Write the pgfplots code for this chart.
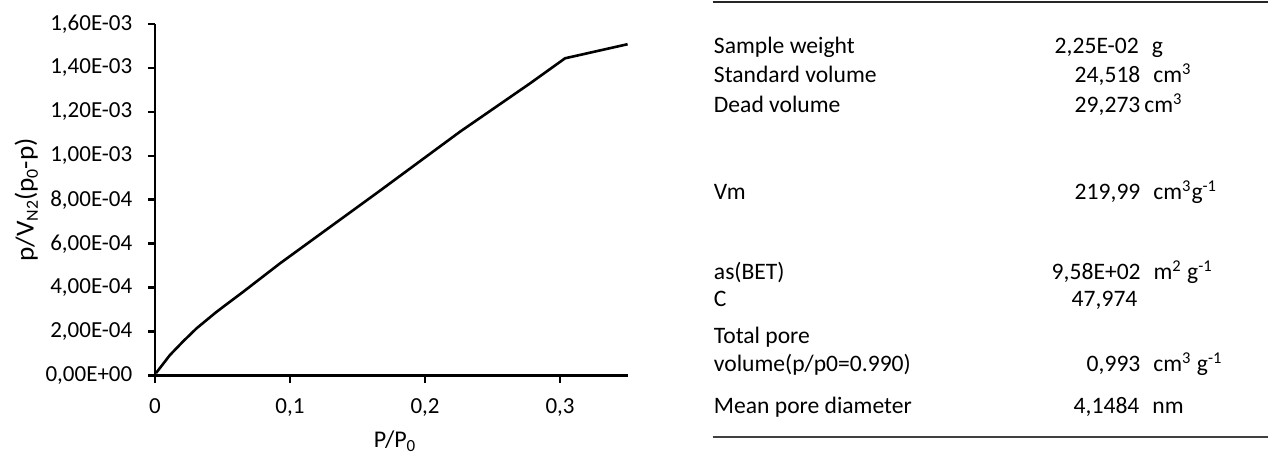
\documentclass[border=0pt]{standalone}
\usepackage{fontspec}
\setmainfont{Carlito}
\usepackage{pgfplots}
\pgfplotsset{compat=1.18}
\newcommand{\sub}[1]{\raisebox{-0.35ex}{\fontsize{8.5}{9}\selectfont #1}}
\begin{document}
\begin{tikzpicture}
\begin{scope}[x=0.5pt,y=-0.5pt]
\path (0,0) rectangle (1269,452);
\end{scope}
\begin{axis}[
  at={(77.5pt,-188pt)}, anchor=south west,
  scale only axis, width=236.5pt, height=176pt,
  xmin=0, xmax=0.35, ymin=0, ymax=0.0016,
  axis x line*=bottom, axis y line*=left,
  axis line style={line width=1.4pt, black},
  tick align=outside, major tick length=3.5pt,
  tick style={line width=1.4pt, black},
  xtick={0,0.1,0.2,0.3},
  xticklabels={0,{0,1},{0,2},{0,3}},
  ytick={0,0.0002,0.0004,0.0006,0.0008,0.001,0.0012,0.0014,0.0016},
  yticklabels={{0,00E+00},{2,00E-04},{4,00E-04},{6,00E-04},{8,00E-04},{1,00E-03},{1,20E-03},{1,40E-03},{1,60E-03}},
  scaled y ticks=false, scaled x ticks=false,
  /pgf/number format/assume math mode=true,
  ticklabel style={font=\fontsize{11.5}{13}\selectfont},
  xticklabel style={yshift=-4.5pt},
  yticklabel style={xshift=-4.3pt},
  xlabel={P/P\sub{0}},
  ylabel={p/V\sub{N2}(p\sub{0}-p)},
  xlabel style={at={(axis description cs:0.507,-0.203)}, anchor=base, font=\fontsize{12}{14}\selectfont},
  ylabel style={at={(axis description cs:-0.272,0.5)}, anchor=center, font=\fontsize{13}{15}\selectfont, xscale=1.05},
  clip=false,
]
\addplot[line width=1.3pt, black, mark=none, line join=round] coordinates {
(0.0008,0.000012)
(0.0111,0.000094)
(0.021,0.000157)
(0.0309,0.000216)
(0.0457,0.000291)
(0.0654,0.000382)
(0.0926,0.000511)
(0.1667,0.000842)
(0.2259,0.001110)
(0.258,0.001246)
(0.2778,0.001330)
(0.3037,0.001444)
(0.35,0.001508)
};
\end{axis}
\begin{scope}[x=0.5pt,y=-0.5pt, every node/.style={anchor=base west, inner sep=0pt, font=\fontsize{11.8}{14}\selectfont}]
\draw[line width=0.8pt, black!85] (713,2) -- (1269,2);
\draw[line width=0.8pt, black!75] (713,437) -- (1269,437);
\node at (714,54) {Sample weight};
\node at (714,83) {Standard volume};
\node at (714,113) {Dead volume};
\node at (714,200) {Vm};
\node at (714,280) {as(BET)};
\node at (714,307) {C};
\node at (714,344) {Total pore};
\node at (714,372) {volume(p/p0=0.990)};
\node at (714,414) {Mean pore diameter};
\node at (1055,54) {2,25E-02\hspace{6.5pt}g};
\node at (1075,83) {24,518\hspace{6.5pt}cm\textsuperscript{3}};
\node at (1075,113) {29,273\hspace{2pt}cm\textsuperscript{3}};
\node at (1075,200) {219,99\hspace{6.5pt}cm\textsuperscript{3}g\textsuperscript{-1}};
\node at (1052,280) {9,58E+02\hspace{6.5pt}m\textsuperscript{2} g\textsuperscript{-1}};
\node at (1072,307) {47,974};
\node at (1087,372) {0,993\hspace{6.5pt}cm\textsuperscript{3} g\textsuperscript{-1}};
\node at (1074,414) {4,1484\hspace{6.5pt}nm};
\end{scope}
\end{tikzpicture}
\end{document}
